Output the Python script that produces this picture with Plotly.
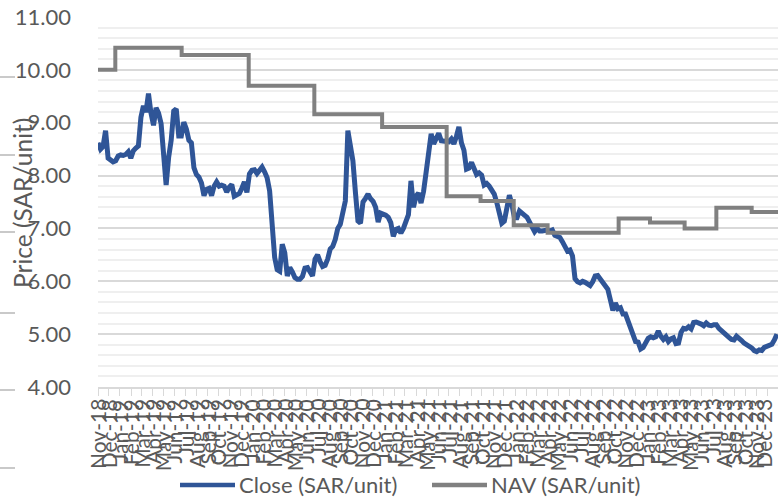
import pandas as pd
import plotly.graph_objects as go

# ---- data ----
close_start = "2018-11-01"          # weekly closing prices from this date
close_values = [
    8.62, 8.50, 8.55, 8.85, 8.33, 8.29, 8.26, 8.28, 8.37, 8.39,
    8.38, 8.40, 8.45, 8.33, 8.47, 8.52, 8.56, 9.10, 9.32, 9.20,
    9.55, 9.18, 8.95, 9.28, 9.18, 8.98, 8.50, 7.82, 8.35, 8.67,
    9.22, 9.26, 8.75, 8.75, 9.01, 8.88, 8.67, 8.62, 8.15, 8.02,
    7.97, 7.86, 7.62, 7.74, 7.76, 7.62, 7.80, 7.88, 7.80, 7.82,
    7.80, 7.69, 7.78, 7.83, 7.61, 7.64, 7.66, 7.76, 7.88, 7.68,
    8.03, 8.10, 8.11, 8.04, 8.10, 8.16, 8.07, 7.96, 7.71, 7.08,
    6.45, 6.22, 6.19, 6.70, 6.54, 6.10, 6.26, 6.18, 6.07, 6.04,
    6.04, 6.09, 6.25, 6.26, 6.18, 6.10, 6.42, 6.50, 6.37, 6.28,
    6.30, 6.42, 6.61, 6.66, 6.79, 7.00, 7.08, 7.32, 7.52, 8.85,
    8.58, 8.28, 7.68, 7.14, 7.10, 7.50, 7.57, 7.65, 7.56, 7.51,
    7.40, 7.12, 7.29, 7.28, 7.25, 7.21, 7.11, 6.85, 6.98, 7.00,
    6.91, 7.00, 7.14, 7.26, 7.90, 7.40, 7.61, 7.67, 7.48, 7.70,
    8.06, 8.48, 8.79, 8.60, 8.70, 8.80, 8.66, 8.66, 8.65, 8.64,
    8.69, 8.60, 8.74, 8.92, 8.62, 8.48, 8.12, 8.14, 8.25, 8.12,
    8.02, 8.05, 8.01, 7.82, 7.85, 7.80, 7.74, 7.65, 7.49, 7.29,
    7.10, 7.14, 7.40, 7.63, 7.45, 7.20, 7.20, 7.33, 7.29, 7.26,
    7.21, 7.12, 7.02, 6.94, 7.00, 6.95, 6.95, 6.97, 6.97, 6.95,
    6.97, 6.87, 6.85, 6.83, 6.75, 6.63, 6.57, 6.59, 6.48, 6.05,
    5.99, 5.97, 6.00, 5.98, 5.95, 5.92, 5.99, 6.10, 6.11, 6.04,
    5.98, 5.93, 5.85, 5.65, 5.45, 5.59, 5.48, 5.50, 5.38, 5.38,
    5.24, 5.09, 4.96, 4.86, 4.85, 4.72, 4.75, 4.84, 4.92, 4.95,
    4.93, 4.95, 5.06, 4.96, 4.90, 4.95, 4.86, 4.91, 4.93, 4.82,
    4.83, 5.03, 5.11, 5.10, 5.14, 5.10, 5.22, 5.23, 5.22, 5.19,
    5.16, 5.21, 5.17, 5.16, 5.18, 5.18, 5.11, 5.06, 5.01, 4.96,
    4.94, 4.90, 4.89, 4.96, 4.93, 4.88, 4.83, 4.80, 4.78, 4.74,
    4.69, 4.67, 4.70, 4.69, 4.75, 4.77, 4.78, 4.81, 4.89, 5.00,
]
close_dates = pd.date_range(close_start, periods=len(close_values), freq="7D")

nav_dates = [
    "2018-11-01", "2018-12-19", "2019-06-21", "2019-12-24", "2020-06-23",
    "2020-12-28", "2021-06-25", "2021-09-27", "2021-12-28", "2022-04-01",
    "2022-10-15", "2023-01-10", "2023-04-16", "2023-07-13", "2023-10-19",
    "2023-12-31",
]
nav_values = [
    10.00, 10.42, 10.28, 9.70, 9.16,
    8.92, 7.61, 7.52, 7.06, 6.92,
    7.19, 7.11, 7.00, 7.39, 7.31,
    7.31,
]

# monthly category ticks of the x axis and their labels
tick_dates = pd.date_range("2018-11-01", "2023-12-01", freq="MS")
tick_labels = [d.strftime("%b-%y") for d in tick_dates]

series_names = ["Close (SAR/unit)", "NAV (SAR/unit)"]
series_colors = ["#2F5597", "#808080"]
y_title = "Price (SAR/unit)"
x_range = ["2018-11-01", "2023-12-31"]
y_range = [4, 11]

FONT = "Lato"
TXT = "#595959"
PLOT_W, PLOT_H, M_L, M_T, M_B = 680, 370, 98, 17, 110


def px_x(p):   # figure pixel -> paper x
    return (p - M_L) / PLOT_W


def px_y(p):   # figure pixel -> paper y
    return (M_T + PLOT_H - p) / PLOT_H


fig = go.Figure()
fig.add_trace(go.Scatter(
    x=close_dates, y=close_values, name=series_names[0], mode="lines",
    line=dict(color=series_colors[0], width=5), showlegend=False,
))
fig.add_trace(go.Scatter(
    x=nav_dates, y=nav_values, name=series_names[1], mode="lines",
    line=dict(color=series_colors[1], width=4, shape="hv"), showlegend=False,
))

fig.update_layout(
    width=778, height=497,
    margin=dict(l=M_L, r=0, t=M_T, b=M_B, autoexpand=False),
    paper_bgcolor="white", plot_bgcolor="white",
    font=dict(family=FONT, color=TXT, size=20),
    showlegend=False,
)

fig.update_xaxes(
    type="date", range=x_range, automargin=False,
    tickvals=tick_dates, showticklabels=False,
    ticks="outside", ticklen=7, tickcolor="#d9d9d9", tickwidth=1,
    showline=True, linecolor="#d9d9d9", linewidth=1.5,
    showgrid=False, zeroline=False,
)
fig.update_yaxes(
    range=y_range, dtick=1, tickformat=".2f", automargin=False,
    showgrid=True, gridcolor="#d9d9d9", gridwidth=2,
    minor=dict(dtick=0.2, showgrid=True, gridcolor="#efefef", gridwidth=1.6),
    zeroline=False, showline=False, ticks="",
    ticklabelstandoff=26,
    tickfont=dict(size=22, color=TXT, family=FONT),
)

# month labels drawn for every tick (the reference shows them all, overlapping)
last = len(tick_dates) - 1
for i, (d, lab) in enumerate(zip(tick_dates, tick_labels)):
    fig.add_annotation(
        text=lab, textangle=-90, x=d, xref="x", yref="paper",
        y=px_y(398), xanchor="center", yanchor="top", showarrow=False,
        xshift=-4 if i == last else 0,
        font=dict(size=21, color=TXT, family=FONT), borderpad=0,
    )

fig.add_annotation(
    text=y_title, textangle=-90, xref="paper", yref="paper",
    x=px_x(22), y=px_y(203), xanchor="center", yanchor="middle", showarrow=False,
    font=dict(size=24.5, color=TXT, family=FONT),
)

# legend below the chart (line sample + series name)
legend_left = [180, 432]
for name, color, left in zip(series_names, series_colors, legend_left):
    fig.add_shape(type="line", xref="paper", yref="paper",
                  x0=px_x(left), x1=px_x(left + 55), y0=px_y(485), y1=px_y(485),
                  line=dict(color=color, width=4.5))
    fig.add_annotation(
        text=name, xref="paper", yref="paper", x=px_x(left + 58), y=px_y(484),
        xanchor="left", yanchor="middle", showarrow=False,
        font=dict(size=22, color=TXT, family=FONT), borderpad=0,
    )

# stray tick marks at the far left edge of the reference image
for yp in [77, 155, 232, 313, 390, 468]:
    fig.add_shape(type="line", xref="paper", yref="paper",
                  x0=px_x(0), x1=px_x(15), y0=px_y(yp), y1=px_y(yp),
                  line=dict(color="#a6a6a6", width=1.2))

fig.write_html(
    "out.html",
    config={"displayModeBar": False},
    post_script="document.body.style.margin='0';document.body.style.padding='0';",
)
